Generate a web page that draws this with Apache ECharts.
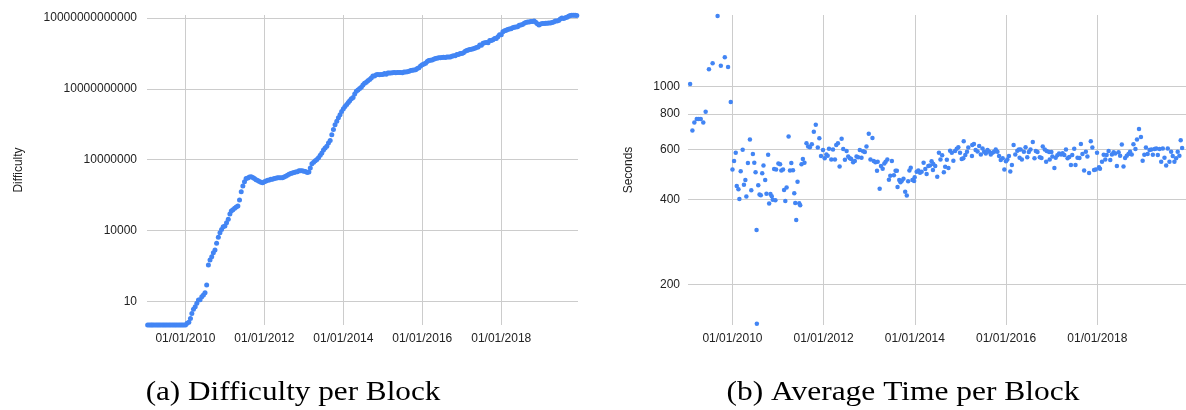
<!DOCTYPE html>
<html><head><meta charset="utf-8">
<script src="https://cdn.jsdelivr.net/npm/echarts@6/dist/echarts.min.js"></script>
<style>html,body{margin:0;padding:0;background:#fff}#c{width:1186px;height:410px}</style>
</head><body><div id="c"></div>
<script>
// ---- Difficulty per block: samples on the 1st and 16th of each month ----
const diff2009 = [1,1,1,1,1,1,1,1,1,1,1,1,1,1,1,1,1,1,1,1,1,1,1,1];
const diff2010 = [1.0,1.18,1.31,1.9,3.1,4.6,5.9,8.3,11.4,11.6,15.8,18.6,23,49,346,560,780,1150,1500,2900,5200,8100,11000,14500];
const diff2011 = [15600,21500,30000,50000,68000,76000,87000,100000,110000,196000,440000,760000,1.17e6,1.6e6,1.69e6,1.86e6,1.88e6,1.76e6,1.6e6,1.4e6,1.3e6,1.19e6,1.1e6,1.06e6];
const diff2012 = [1.16e6,1.25e6,1.35e6,1.38e6,1.5e6,1.5e6,1.59e6,1.63e6,1.73e6,1.73e6,1.73e6,1.73e6,1.87e6,2.0e6,2.2e6,2.44e6,2.6e6,2.7e6,2.9e6,3.0e6,3.1e6,3.37e6,3.44e6,3.44e6];
const diff2013 = [3.25e6,3.15e6,2.9e6,3.0e6,4.4e6,6.7e6,7.7e6,8.97e6,1.01e7,1.2e7,1.56e7,1.93e7,2.6e7,3.1e7,3.74e7,5.08e7,6.57e7,1.126e8,1.9e8,3.0e8,4.2e8,6.0e8,8.0e8,1.1e9];
const diff2014 = [1.42e9,1.79e9,2.19e9,2.62e9,3.13e9,3.82e9,4.25e9,6.12e9,8.0e9,8.85e9,1.045e10,1.176e10,1.45e10,1.73e10,1.9e10,2.2e10,2.5e10,2.9e10,3.47e10,3.5e10,3.96e10,4.03e10,3.96e10,4.03e10];
const diff2015 = [4.06e10,4.44e10,4.13e10,4.67e10,4.67e10,4.74e10,4.76e10,4.94e10,4.76e10,4.88e10,4.94e10,4.97e10,4.76e10,5.11e10,5.23e10,5.27e10,5.6e10,5.93e10,6.09e10,6.23e10,6.5e10,7.27e10,7.91e10,9.34e10];
const diff2016 = [1.039e11,1.134e11,1.2e11,1.441e11,1.584e11,1.635e11,1.655e11,1.787e11,1.943e11,1.993e11,2.084e11,2.099e11,2.134e11,2.183e11,2.134e11,2.258e11,2.208e11,2.258e11,2.4e11,2.536e11,2.546e11,2.816e11,2.868e11,3.102e11];
const diff2017 = [3.177e11,3.367e11,3.929e11,4.229e11,4.409e11,4.602e11,4.751e11,4.996e11,5.219e11,5.599e11,5.956e11,7.117e11,7.081e11,8.602e11,8.882e11,9.227e11,8.882e11,1.103e12,1.123e12,1.196e12,1.347e12,1.364e12,1.59e12,1.931e12];
const diff2018 = [1.931e12,2.603e12,2.875e12,3.007e12,3.29e12,3.462e12,3.511e12,3.839e12,4.022e12,4.143e12,4.306e12,4.94e12,5.077e12,5.363e12,5.949e12,6.389e12,6.727e12,6.727e12,7.153e12,7.184e12,7.454e12,6.653e12,5.646e12,5.106e12];
const diff2019 = [5.618e12,5.884e12,5.814e12,6.062e12,6.068e12,6.072e12,6.071e12,6.379e12,6.704e12,7.459e12,7.41e12,7.934e12,9.065e12,9.985e12,9.6e12,1.0183e13,1.0772e13,1.189e13,1.2759e13,1.3008e13,1.2974e13,1.3012e13,1.2876e13];

// ---- Average time per block (one point per retarget period): decimal year, seconds ----
const timeYears = [2009.071,2009.121,2009.164,2009.217,2009.260,2009.304,2009.360,2009.412,2009.484,2009.565,2009.674,2009.745,2009.832,2009.904,2009.963,
2010.000,2010.035,2010.072,2010.094,2010.131,2010.152,2010.181,2010.224,2010.252,2010.283,2010.305,2010.339,2010.383,2010.413,2010.448,2010.479,2010.507,2010.529,2010.535,2010.566,2010.594,2010.622,2010.653,2010.681,2010.718,2010.746,2010.783,2010.805,2010.834,2010.862,2010.884,2010.914,2010.942,2010.958,
2011.008,2011.045,2011.073,2011.110,2011.132,2011.160,2011.188,2011.232,2011.262,2011.291,2011.328,2011.356,2011.378,2011.399,2011.428,2011.465,2011.486,2011.515,2011.545,2011.580,2011.624,2011.661,2011.698,2011.741,2011.785,2011.828,2011.872,2011.906,2011.943,2011.987,
2012.024,2012.059,2012.089,2012.118,2012.168,2012.205,2012.248,2012.276,2012.313,2012.350,2012.394,2012.429,2012.466,2012.503,2012.538,2012.574,2012.603,2012.646,2012.683,2012.720,2012.755,2012.792,2012.829,2012.864,2012.901,2012.938,2012.988,
2013.025,2013.069,2013.097,2013.134,2013.169,2013.184,2013.227,2013.256,2013.293,2013.330,2013.358,2013.395,2013.430,2013.460,2013.495,2013.539,2013.576,2013.604,2013.619,2013.656,2013.684,2013.713,2013.750,2013.787,2013.822,2013.852,2013.880,2013.909,2013.946,2013.983,2013.995,
2014.039,2014.076,2014.113,2014.148,2014.191,2014.228,2014.257,2014.294,2014.331,2014.366,2014.396,2014.403,2014.446,2014.490,2014.527,2014.561,2014.598,2014.635,2014.664,2014.701,2014.736,2014.772,2014.810,2014.844,2014.881,2014.918,2014.953,2014.990,
2015.027,2015.062,2015.071,2015.106,2015.143,2015.171,2015.252,2015.258,2015.295,2015.332,2015.375,2015.410,2015.447,2015.484,2015.519,2015.556,2015.593,2015.628,2015.665,2015.702,2015.737,2015.774,2015.811,2015.846,2015.883,2015.926,2015.963,2015.998,
2016.028,2016.063,2016.093,2016.128,2016.165,2016.202,2016.246,2016.281,2016.296,2016.318,2016.346,2016.390,2016.427,2016.464,2016.498,2016.535,2016.585,2016.622,2016.651,2016.688,2016.738,2016.775,2016.803,2016.847,2016.877,2016.890,2016.942,2016.955,2016.992,
2017.014,2017.058,2017.086,2017.123,2017.160,2017.204,2017.238,2017.275,2017.312,2017.347,2017.384,2017.421,2017.449,2017.493,2017.521,2017.565,2017.608,2017.639,2017.673,2017.710,2017.748,2017.782,2017.819,2017.856,2017.891,2017.928,2017.965,2017.993,
2018.036,2018.058,2018.102,2018.139,2018.174,2018.204,2018.248,2018.283,2018.320,2018.357,2018.392,2018.429,2018.466,2018.500,2018.537,2018.574,2018.609,2018.646,2018.683,2018.718,2018.755,2018.792,2018.836,2018.870,2018.914,2018.957,2018.994,
2019.031,2019.066,2019.103,2019.146,2019.184,2019.218,2019.255,2019.292,2019.327,2019.364,2019.401,2019.436,2019.473,2019.510,2019.545,2019.582,2019.619,2019.654,2019.691,2019.728,2019.763,2019.800,2019.829,2019.860];
const timeSeconds = [1022,700,747,768,768,768,747,816,1152,1210,1780,1186,1270,1174,883,
510,546,584,445,434,401,502,599,450,468,409,537,651,430,578,538,498,311,145,448,416,413,494,526,468,418,575,386,417,410,398,512,397,510,
535,532,505,510,431,394,440,666,505,537,506,420,388,338,461,387,381,532,555,538,631,614,611,626,693,734,609,657,569,597,
558,576,570,603,553,600,553,622,631,522,655,602,552,592,566,558,555,541,546,566,563,597,561,591,587,614,682,
553,659,546,541,504,543,436,524,513,535,543,553,469,484,546,486,504,504,442,468,459,465,473,425,412,463,505,517,468,464,478,
500,505,496,500,538,512,491,524,526,545,507,533,524,480,584,553,572,498,521,552,516,594,584,547,592,603,611,584,
555,558,641,573,589,609,569,622,627,597,590,617,576,605,589,580,597,589,576,584,589,600,589,569,550,558,510,545,
553,569,501,528,622,576,594,600,561,600,553,589,611,563,587,600,638,558,592,587,563,559,614,600,543,592,587,553,587,
566,516,561,572,580,576,581,573,600,558,564,528,573,603,528,561,559,627,578,505,589,566,495,641,609,507,510,584,
519,513,543,575,553,573,592,550,576,586,580,524,586,570,624,522,559,570,578,589,576,626,602,650,709,664,547,
575,609,578,597,600,575,602,605,573,602,543,605,561,526,605,543,589,569,543,558,589,570,647,607];

// ---- Axis ticks ----
const difficultyTicks = [10, 1e4, 1e7, 1e10, 1e13];
const secondsTicks = [200, 400, 600, 800, 1000];
const dateTicks = ['2010-01-01', '2012-01-01', '2014-01-01', '2016-01-01', '2018-01-01'];
const xMin = '2009-01-10', xMax = '2019-12-12';

// ---- Build series data ----
function ts(s) { const p = s.split('-').map(Number); return new Date(p[0], p[1] - 1, p[2]).getTime(); }
const diffByYear = [[2009, diff2009], [2010, diff2010], [2011, diff2011], [2012, diff2012], [2013, diff2013], [2014, diff2014], [2015, diff2015], [2016, diff2016], [2017, diff2017], [2018, diff2018], [2019, diff2019]];
const difficultyData = [];
diffByYear.forEach(([y, arr]) => arr.forEach((v, i) => {
  difficultyData.push([new Date(y, Math.floor(i / 2), i % 2 ? 16 : 1).getTime(), v]);
}));
function yearToTime(d) {
  const y = Math.floor(d);
  const a = new Date(y, 0, 1).getTime(), b = new Date(y + 1, 0, 1).getTime();
  return a + (d - y) * (b - a);
}
const timeData = timeYears.map((d, i) => [yearToTime(d), timeSeconds[i]]);

function pad(n) { return (n < 10 ? '0' : '') + n; }
function fmtDate(v) { const d = new Date(v); return pad(d.getMonth() + 1) + '/' + pad(d.getDate()) + '/' + d.getFullYear(); }

const FONT = 'Liberation Sans, Arial, sans-serif';
const labelStyle = { color: '#222', fontFamily: FONT, fontSize: 12 };
const gridLine = { show: true, lineStyle: { color: '#cccccc', width: 1 } };
const dateTickValues = dateTicks.map(ts);

function xAxis(gi) {
  return {
    type: 'value', gridIndex: gi, min: ts(xMin), max: ts(xMax), scale: true,
    axisLine: { show: false },
    axisTick: { show: false, customValues: dateTickValues },
    axisLabel: Object.assign({}, labelStyle, { customValues: dateTickValues, margin: 8, formatter: v => fmtDate(v), hideOverlap: false }),
    splitLine: gridLine
  };
}

const captionFont = '27px "Liberation Serif", serif';
const chart = echarts.init(document.getElementById('c'), null, { renderer: 'canvas' });
chart.setOption({
  animation: false,
  backgroundColor: '#fff',
  grid: [
    { left: 147, top: 15, width: 431, height: 310 },
    { left: 688, top: 15, width: 502, height: 310 }
  ],
  xAxis: [xAxis(0), xAxis(1)],
  yAxis: [
    {
      type: 'log', gridIndex: 0, logBase: 10, min: 1, max: 1.34e13,
      axisLine: { show: false },
      axisTick: { show: false, customValues: difficultyTicks },
      axisLabel: Object.assign({}, labelStyle, { customValues: difficultyTicks, margin: 10, formatter: v => String(Math.round(v)) }),
      splitLine: gridLine,
      name: 'Difficulty', nameLocation: 'middle', nameGap: 122,
      nameTextStyle: { color: '#222', fontFamily: FONT, fontSize: 12 }
    },
    {
      type: 'log', gridIndex: 1, logBase: 10, min: 143.6, max: 1793,
      axisLine: { show: false },
      axisTick: { show: false, customValues: secondsTicks },
      axisLabel: Object.assign({}, labelStyle, { customValues: secondsTicks, margin: 8, formatter: v => String(Math.round(v)) }),
      splitLine: gridLine,
      name: 'Seconds', nameLocation: 'middle', nameGap: 53,
      nameTextStyle: { color: '#222', fontFamily: FONT, fontSize: 12 }
    }
  ],
  series: [
    { type: 'scatter', xAxisIndex: 0, yAxisIndex: 0, data: difficultyData, symbol: 'circle', symbolSize: 5, itemStyle: { color: '#4285F4', opacity: 1 }, clip: true },
    { type: 'scatter', xAxisIndex: 1, yAxisIndex: 1, data: timeData, symbol: 'circle', symbolSize: 4.5, itemStyle: { color: '#4285F4', opacity: 1 }, clip: false }
  ],
  graphic: [
    { type: 'text', x: 293, y: 393, scaleX: 1.155, style: { text: '(a) Difficulty per Block', align: 'center', verticalAlign: 'middle', font: captionFont, fill: '#000' } },
    { type: 'text', x: 903, y: 393, scaleX: 1.165, style: { text: '(b) Average Time per Block', align: 'center', verticalAlign: 'middle', font: captionFont, fill: '#000' } }
  ]
});
</script>
</body></html>
